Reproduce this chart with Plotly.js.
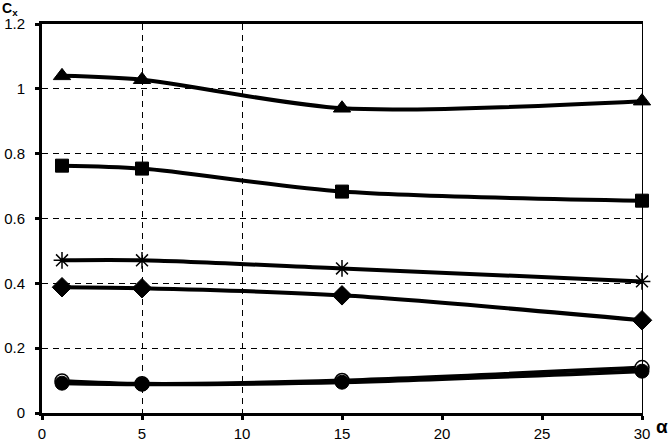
<!DOCTYPE html>
<html><head><meta charset="utf-8">
<script src="https://cdn.plot.ly/plotly-3.0.1.min.js"></script>
<style>html,body{margin:0;padding:0;background:#fff}#chart{width:671px;height:447px}</style>
</head><body><div id="chart"></div>
<script>
const alpha = [1, 5, 15, 30];
const triangleSeries = [1.04, 1.028, 0.94, 0.962];
const squareSeries = [0.763, 0.754, 0.683, 0.655];
const starSeries = [0.471, 0.471, 0.446, 0.406];
const diamondSeries = [0.388, 0.385, 0.363, 0.286];
const openCircleSeries = [0.099, 0.09, 0.1, 0.14];
const filledCircleSeries = [0.092, 0.089, 0.095, 0.129];
const xTicks = [0, 5, 10, 15, 20, 25, 30];
const yTicks = [0, 0.2, 0.4, 0.6, 0.8, 1, 1.2];
const xGridTicks = [5, 10];

function tr(y, sym, size, extra) {
  return Object.assign({
    x: alpha, y: y, type: 'scatter', mode: 'lines+markers',
    line: {color: '#000', width: 4, shape: 'spline', smoothing: 0.8},
    marker: {symbol: sym, size: size, color: '#000', line: {color: '#000', width: 1}},
    showlegend: false, hoverinfo: 'skip', cliponaxis: false
  }, extra || {});
}

const data = [
  tr(triangleSeries, 'triangle-up', 15),
  tr(squareSeries, 'square', 13),
  tr(starSeries, 'asterisk-open', 14, {marker: {symbol: 'asterisk-open', size: 14, color: '#000', line: {color: '#000', width: 1.5}}}),
  tr(diamondSeries, 'diamond', 15),
  tr(openCircleSeries, 'circle', 14, {marker: {symbol: 'circle', size: 14, color: '#fff', line: {color: '#000', width: 1.5}}}),
  tr(filledCircleSeries, 'circle', 14),
  {x: [0, 30], y: [0, 0], xaxis: 'x2', yaxis: 'y2', type: 'scatter', mode: 'none', showlegend: false, hoverinfo: 'skip'}
];

const font = {family: 'Liberation Sans, Arial, sans-serif', size: 15, color: '#000'};
const layout = {
  width: 671, height: 447,
  margin: {l: 42, r: 29, t: 24, b: 34},
  paper_bgcolor: '#fff', plot_bgcolor: '#fff',
  font: font,
  xaxis: {
    range: [0, 30], tickvals: xTicks, ticktext: xTicks.map(String),
    showgrid: false, zeroline: false,
    showline: true, linewidth: 3, linecolor: '#000', mirror: true,
    ticks: 'outside', ticklen: 4, tickwidth: 3, tickcolor: '#000',
    ticklabelstandoff: 1, tickfont: font
  },
  yaxis: {
    range: [0, 1.2], tickvals: yTicks, ticktext: yTicks.map(String),
    showgrid: true, gridcolor: '#000', gridwidth: 1, griddash: '6px,5px',
    zeroline: false,
    showline: true, linewidth: 3, linecolor: '#000',
    ticks: 'outside', ticklen: 4, tickwidth: 3, tickcolor: '#000',
    ticklabelstandoff: 7, tickfont: font
  },
  xaxis2: {
    overlaying: 'x', range: [0, 30], tickvals: xGridTicks, showticklabels: false,
    showgrid: true, gridcolor: '#000', gridwidth: 1, griddash: '6px,5px',
    zeroline: false, showline: false, ticks: ''
  },
  yaxis2: {
    overlaying: 'y', side: 'right', range: [0, 1.2], showticklabels: false,
    showgrid: false, zeroline: false, showline: true, linewidth: 1, linecolor: '#000', ticks: ''
  },
  annotations: [
    {xref: 'paper', yref: 'paper', x: 0, y: 1, xshift: -42, yshift: 26, xanchor: 'left', yanchor: 'top',
     text: '<b>C<sub>x</sub></b>', showarrow: false, font: {family: 'Liberation Sans, Arial, sans-serif', size: 14, color: '#000'}},
    {xref: 'paper', yref: 'paper', x: 1, y: 0, xshift: 12, yshift: -1, xanchor: 'left', yanchor: 'top',
     text: '<b>α</b>', showarrow: false, font: {family: 'Liberation Sans, Arial, sans-serif', size: 19, color: '#000'}}
  ]
};

Plotly.newPlot('chart', data, layout, {staticPlot: true, displayModeBar: false});
</script>
</body></html>
